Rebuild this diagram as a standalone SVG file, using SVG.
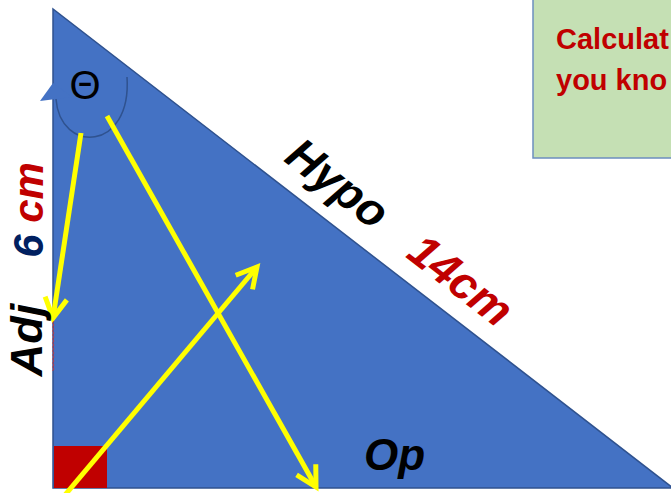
<svg xmlns="http://www.w3.org/2000/svg" width="671" height="493" viewBox="0 0 671 493">
<defs>
<style>
.lbl{font-family:"Liberation Sans",Arial,sans-serif;font-weight:bold;font-style:italic;}
.arr{stroke:#FFFF00;stroke-width:5;fill:none;marker-end:url(#open);}
</style>
<marker id="open" markerUnits="userSpaceOnUse" markerWidth="40" markerHeight="40" viewBox="-30 -20 40 40" refX="0" refY="0" orient="auto" overflow="visible">
<path d="M-20,-11 L0,0 L-20,11" fill="none" stroke="#FFFF00" stroke-width="5" stroke-linejoin="miter"/>
</marker>
</defs>
<rect width="671" height="493" fill="#FFFFFF"/>
<g id="triangle">
<polygon points="53,9 53,488 673,488" fill="#4472C4" stroke="#2F528F" stroke-width="1.5"/>
<rect x="54" y="446" width="53" height="42" fill="#C00000"/>
</g>
<g id="info-box">
<rect x="533" y="-2" width="142" height="160" fill="#C5E0B4" stroke="#6C8EBF" stroke-width="1.5"/>
<text x="556" y="49" font-family="'Liberation Sans',Arial,sans-serif" font-weight="bold" font-size="29" fill="#C00000">Calculat</text>
<text x="556" y="90" font-family="'Liberation Sans',Arial,sans-serif" font-weight="bold" font-size="29" fill="#C00000">you kno</text>
</g>
<g id="angle">
<path d="M56,99 C60,154 132,152 127,77" fill="none" stroke="#2F528F" stroke-width="1.5"/>
<polygon points="40,101 53,83 72,97" fill="#4472C4"/>
<text x="85" y="99" text-anchor="middle" font-family="'Liberation Sans',Arial,sans-serif" font-size="40" fill="#000000">Θ</text>
</g>
<g id="connectors">
<line class="arr" x1="81" y1="133" x2="53" y2="318"/>
<line class="arr" x1="107" y1="116" x2="316" y2="487"/>
<line class="arr" x1="65" y1="495" x2="257" y2="267"/>
</g>
<g id="labels">
<text class="lbl" transform="translate(338,183) rotate(37.8)" x="0" y="16" text-anchor="middle" font-size="46" fill="#000000">Hypo</text>
<text class="lbl" transform="translate(461,280) rotate(37.8)" x="0" y="16" text-anchor="middle" font-size="46" fill="#C00000">14cm</text>
<text class="lbl" transform="translate(42,340) rotate(-90)" text-anchor="middle" font-size="45" fill="#000000">Adj</text>
<text class="lbl" transform="translate(43,210) rotate(-90)" text-anchor="middle" font-size="42"><tspan fill="#002060">6 </tspan><tspan fill="#C00000">cm</tspan></text>
<text class="lbl" x="364" y="470" font-size="44" fill="#000000">Op</text>
<path d="M54,321 l-1.5,2 l1.5,2 l-1.5,2 l1.5,2 l-1.5,2 l1.5,2 l-1.5,2 l1.5,2 l-1.5,2 l1.5,2 l-1.5,2 l1.5,2 l-1.5,2 l1.5,2 l-1.5,2 l1.5,2 l-1.5,2 l1.5,2 l-1.5,2 l1.5,2 l-1.5,2 l1.5,2 l-1.5,2 l1.5,2 l-1.5,2" fill="none" stroke="#E03030" stroke-width="0.8"/>
</g>
</svg>
